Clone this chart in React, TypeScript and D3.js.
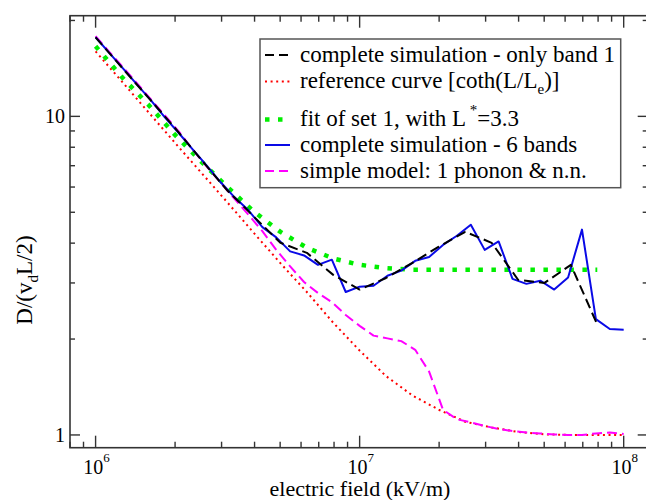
import React from 'react';
import * as d3 from 'd3';

// electric field grids (kV/m)
const fieldFine = [
  1.0e6, 1.1288e6, 1.2743e6, 1.4384e6, 1.6238e6, 1.833e6, 2.0691e6, 2.3357e6, 2.6367e6, 2.9764e6,
  3.3598e6, 3.7927e6, 4.2813e6, 4.8329e6, 5.4556e6, 6.1585e6, 6.9519e6, 7.8476e6, 8.8587e6,
  1.0e7, 1.1288e7, 1.2743e7, 1.4384e7, 1.6238e7, 1.833e7, 2.0691e7, 2.3357e7, 2.6367e7, 2.9764e7,
  3.3598e7, 3.7927e7, 4.2813e7, 4.8329e7, 5.4556e7, 6.1585e7, 6.9519e7, 7.8476e7, 8.8587e7, 1.0e8,
];
const fieldCoarse = [
  1.0e6, 1.2589e6, 1.5849e6, 1.9953e6, 2.5119e6, 3.1623e6, 3.9811e6, 5.0119e6, 6.3096e6, 7.9433e6,
  1.0e7, 1.2589e7, 1.5849e7, 1.9953e7, 2.5119e7, 3.1623e7, 3.9811e7, 5.0119e7, 6.3096e7, 7.9433e7, 1.0e8,
];

// series values D/(v_d L/2)
const sixBands = [
  17.71, 15.8, 14.09, 12.56, 11.2, 9.91, 8.85, 7.86, 7.0, 6.21,
  5.57, 5.07, 4.49, 4.17, 3.77, 3.66, 3.42, 3.55, 2.81,
  2.92, 2.94, 3.16, 3.28, 3.52, 3.62, 3.95, 4.22, 4.57, 3.81,
  4.05, 3.09, 2.98, 3.05, 2.86, 3.12, 4.41, 2.31, 2.15, 2.14,
];
const simpleModel = [
  17.86, 15.91, 14.22, 12.67, 11.28, 10.05, 8.95, 7.86, 6.95, 6.19,
  5.51, 4.91, 4.36, 3.81, 3.38, 3.02, 2.79, 2.61, 2.38,
  2.2, 2.05, 2.01, 1.97, 1.85, 1.58, 1.2, 1.12, 1.095, 1.067,
  1.044, 1.029, 1.018, 1.011, 1.004, 1.0, 1.0, 1.011, 1.018, 1.007,
];
const onlyBand1 = [
  17.71, 14.22, 11.45, 9.21, 7.31, 5.84, 4.84, 4.01, 3.73, 3.18,
  2.86, 3.11, 3.47, 3.9, 4.34, 4.01, 3.07, 3.0, 3.42, 2.22,
];
const referenceCurve = [
  16.0, 12.85, 10.31, 8.27, 6.66, 5.36, 4.3, 3.46, 2.81, 2.25,
  1.84, 1.53, 1.33, 1.2, 1.1, 1.056, 1.022, 1.004, 1.0, 1.0, 1.0,
];
const fitSet1 = [
  16.6, 13.28, 10.88, 8.76, 7.21, 5.99, 5.02, 4.34, 3.87, 3.58,
  3.42, 3.34, 3.3, 3.3, 3.3, 3.3, 3.3, 3.3, 3.3, 3.3,
];

const xTickExponents = ['6', '7', '8'];
const xTickValues = [1e6, 1e7, 1e8];
const yTickLabels = ['1', '10'];
const yTickValues = [1, 10];

const legendLabels = [
  'complete simulation - only band 1',
  'reference curve [coth(L/L_e)]',
  'fit of set 1, with L^*=3.3',
  'complete simulation - 6 bands',
  'simple model: 1 phonon & n.n.',
];

const W = 646;
const H = 500;
const left = 70, right = 647.7, top = 15.7, bottom = 447.7;
const FONT = "'Liberation Serif', 'DejaVu Serif', 'Times New Roman', serif";
const tstyle = { fontFamily: FONT };

const x = d3.scaleLog().domain([8e5, 1.233e8]).range([left, right]);
const y = d3.scaleLog().domain([0.912, 20.7]).range([bottom, top]);

type Series = { xs: number[]; ys: number[]; color: string; width: number; dash?: string };

const series: Series[] = [
  { xs: fieldCoarse, ys: referenceCurve, color: '#ff0000', width: 2, dash: '2 3.6' },
  { xs: fieldCoarse.slice(0, fitSet1.length), ys: fitSet1, color: '#00ee00', width: 4.5, dash: '4.5 8.5' },
  { xs: fieldFine, ys: simpleModel, color: '#ff00ff', width: 2, dash: '10 5' },
  { xs: fieldFine, ys: sixBands, color: '#0a0ae6', width: 2 },
  { xs: fieldCoarse.slice(0, onlyBand1.length), ys: onlyBand1, color: '#000000', width: 2, dash: '10 5' },
];

const legendStyles = [
  { color: '#000000', width: 2, dash: '9 5' },
  { color: '#ff0000', width: 2, dash: '2 3.6' },
  { color: '#00ee00', width: 4.5, dash: '4.5 8.5' },
  { color: '#0a0ae6', width: 2, dash: undefined as string | undefined },
  { color: '#ff00ff', width: 2, dash: '9 5' },
];
const legendRowsY = [55, 81.5, 119.5, 145, 171];

function renderLabel(label: string) {
  if (label.includes('_e')) {
    const [a, b] = label.split('L_e');
    return (
      <>
        {a}L<tspan dy={6} fontSize={15}>e</tspan><tspan dy={-6}>{b}</tspan>
      </>
    );
  }
  if (label.includes('^*')) {
    const [a, b] = label.split('^*');
    return (
      <>
        {a}<tspan dy={-11} fontSize={15}>{' *'}</tspan><tspan dy={11}>{b}</tspan>
      </>
    );
  }
  return label;
}

export default function App() {
  const line = d3.line<[number, number]>().x((d) => x(d[0])).y((d) => y(d[1]));
  const xMinor = x.ticks().filter((v) => v >= 8e5 && v <= 1.233e8);
  const yMinor = y.ticks().filter((v) => v >= 0.912 && v <= 20.7);
  const isMajor = (v: number) => Math.abs(Math.log10(v) - Math.round(Math.log10(v))) < 1e-6;

  return (
    <svg width={W} height={H} style={{ position: 'absolute', left: 0, top: 0, background: '#fff', fontFamily: FONT }}>
      <rect x={0} y={0} width={W} height={H} fill="#fff" />
      <defs>
        <clipPath id="plot">
          <rect x={left} y={top} width={right - left} height={bottom - top} />
        </clipPath>
      </defs>
      <rect x={left} y={top} width={right - left} height={bottom - top} fill="none" stroke="#333" strokeWidth={1.6} />
      {xMinor.map((v, i) => {
        const len = isMajor(v) ? 12 : 6;
        const px = x(v);
        return (
          <g key={'xt' + i} stroke="#333" strokeWidth={1.4}>
            <line x1={px} x2={px} y1={bottom} y2={bottom - len} />
            <line x1={px} x2={px} y1={top} y2={top + len} />
          </g>
        );
      })}
      {yMinor.map((v, i) => {
        const len = isMajor(v) ? 10 : 5;
        const py = y(v);
        return (
          <g key={'yt' + i} stroke="#333" strokeWidth={1.4}>
            <line x1={left} x2={left + len} y1={py} y2={py} />
            <line x1={right} x2={right - len} y1={py} y2={py} />
          </g>
        );
      })}
      {xTickValues.map((v, i) => (
        <text key={'xl' + i} x={x(v) + 1} y={474} fontSize={20} textAnchor="middle" fill="#000" style={tstyle}>
          10<tspan dy={-12} fontSize={13}>{xTickExponents[i]}</tspan>
        </text>
      ))}
      {yTickValues.map((v, i) => (
        <text key={'yl' + i} x={65} y={y(v) + 7} fontSize={20} textAnchor="end" fill="#000" style={tstyle}>
          {yTickLabels[i]}
        </text>
      ))}
      <text x={360} y={496} fontSize={22} textAnchor="middle" fill="#000" style={tstyle}>electric field (kV/m)</text>
      <text transform="translate(32,280) rotate(-90)" fontSize={23} textAnchor="middle" fill="#000" style={tstyle}>
        D/(v<tspan dy={6} fontSize={15}>d</tspan><tspan dy={-6}>L/2)</tspan>
      </text>
      <g clipPath="url(#plot)">
        {series.map((s, i) => (
          <path
            key={'s' + i}
            d={line(s.xs.map((v, j) => [v, s.ys[j]] as [number, number])) || ''}
            fill="none"
            stroke={s.color}
            strokeWidth={s.width}
            strokeDasharray={s.dash}
            strokeLinejoin="round"
          />
        ))}
      </g>
      <rect x={260} y={39} width={360.7} height={148.7} fill="#fff" stroke="#555" strokeWidth={1.5} />
      {legendLabels.map((lab, i) => (
        <g key={'lg' + i}>
          <line
            x1={265}
            x2={290}
            y1={legendRowsY[i]}
            y2={legendRowsY[i]}
            stroke={legendStyles[i].color}
            strokeWidth={legendStyles[i].width}
            strokeDasharray={legendStyles[i].dash}
          />
          <text x={300} y={legendRowsY[i] + 6.5} fontSize={23} fill="#000" style={tstyle}>
            {renderLabel(lab)}
          </text>
        </g>
      ))}
    </svg>
  );
}
